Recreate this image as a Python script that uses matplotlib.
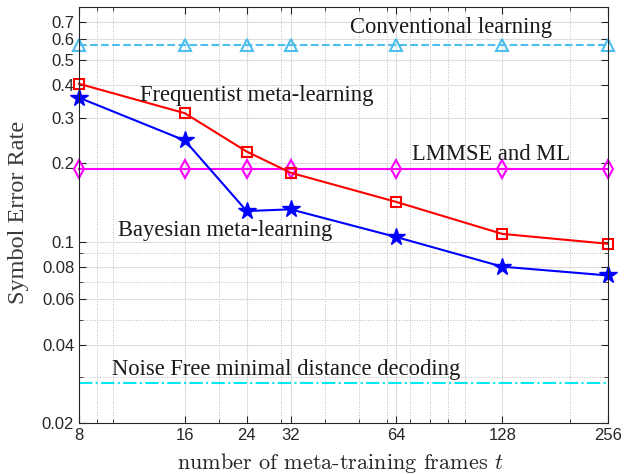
import matplotlib
matplotlib.use("Agg")
import matplotlib.pyplot as plt
from matplotlib.ticker import FixedLocator, FixedFormatter, NullFormatter

# data
frames = [8, 16, 24, 32, 64, 128, 256]
frequentist = [0.405, 0.312, 0.222, 0.184, 0.142, 0.107, 0.098]
bayesian = [0.358, 0.245, 0.131, 0.133, 0.104, 0.080, 0.074]
lmmse = [0.19] * 7
conventional = [0.57] * 7
noise_free = [0.0285] * 7

xticks = [8, 16, 24, 32, 64, 128, 256]
xminor = [9, 10, 20, 30, 40, 50, 60, 70, 80, 90, 100, 200]
yticks = [0.02, 0.04, 0.06, 0.08, 0.1, 0.2, 0.3, 0.4, 0.5, 0.6, 0.7]
ylabels = ["0.02", "0.04", "0.06", "0.08", "0.1", "0.2", "0.3", "0.4", "0.5", "0.6", "0.7"]
yminor = [0.03, 0.05, 0.07, 0.09]

W, H = 631, 474
plt.rcParams['mathtext.fontset'] = 'cm'
serif = ['Liberation Serif', 'DejaVu Serif']
sans = ['Liberation Sans', 'DejaVu Sans']

fig = plt.figure(figsize=(W / 100, H / 100), dpi=100)
ax = fig.add_axes([79 / W, 1 - 423 / H, (608 - 79) / W, (423 - 7) / H])

ax.plot(frames, noise_free, '-.', color='#00E8F0', lw=1.5)
ax.plot(frames, conventional, '--', color='#4DBEEE', lw=1.5, marker='^',
        ms=9, mfc='none', mew=1.5, clip_on=False)
ax.plot(frames, lmmse, '-', color='#FF00FF', lw=1.5, marker='d',
        ms=9, mfc='none', mew=1.5, clip_on=False)
ax.plot(frames, frequentist, '-', color='#FF0000', lw=1.5, marker='s',
        ms=7, mfc='none', mew=1.5, clip_on=False)
ax.plot(frames, bayesian, '-', color='#0000FF', lw=1.5, marker='*',
        ms=13, mfc='#0000FF', mew=1, clip_on=False)

ax.set_xscale('log')
ax.set_yscale('log')
ax.set_xlim(8, 256)
ax.set_ylim(0.02, 0.8)

ax.xaxis.set_major_locator(FixedLocator(xticks))
ax.xaxis.set_major_formatter(FixedFormatter([str(v) for v in xticks]))
ax.xaxis.set_minor_locator(FixedLocator(xminor))
ax.xaxis.set_minor_formatter(NullFormatter())
ax.yaxis.set_major_locator(FixedLocator(yticks))
ax.yaxis.set_major_formatter(FixedFormatter(ylabels))
ax.yaxis.set_minor_locator(FixedLocator(yminor))
ax.yaxis.set_minor_formatter(NullFormatter())

ax.grid(True, which='major', color='#DEDEDE', lw=0.8, ls='-')
ax.grid(True, which='minor', color='#BBBBBB', lw=0.7, ls=':')
ax.set_axisbelow(True)

ax.tick_params(which='both', direction='in', top=True, right=True,
               color='#262626', labelcolor='#262626')
ax.tick_params(which='major', length=5, labelsize=12)
ax.tick_params(which='minor', length=3)
for lab in ax.get_xticklabels() + ax.get_yticklabels():
    lab.set_fontfamily(sans)
for s in ax.spines.values():
    s.set_color('#262626')
    s.set_linewidth(0.8)

ax.set_ylabel('Symbol Error Rate', fontsize=17.5, family=serif, color='#3a3a3a')
ax.yaxis.set_label_coords(29 / W, 1 - 212 / H, transform=fig.transFigure)
ax.set_xlabel('number of meta-training frames $t$', fontsize=16,
              family='cmr10', color='#262626')
ax.xaxis.set_label_coords(340 / W, 1 - 451 / H, transform=fig.transFigure)


def note(x, y, s):
    fig.text(x / W, 1 - y / H, s, fontsize=16.3, family=serif,
             color='#1a1a1a', va='center', ha='left')


note(350, 28, 'Conventional learning')
note(140, 95, 'Frequentist meta-learning')
note(412, 155, 'LMMSE and ML')
note(118, 230, 'Bayesian meta-learning')
note(112, 370, 'Noise Free minimal distance decoding')

fig.savefig('out.png', dpi=100)
